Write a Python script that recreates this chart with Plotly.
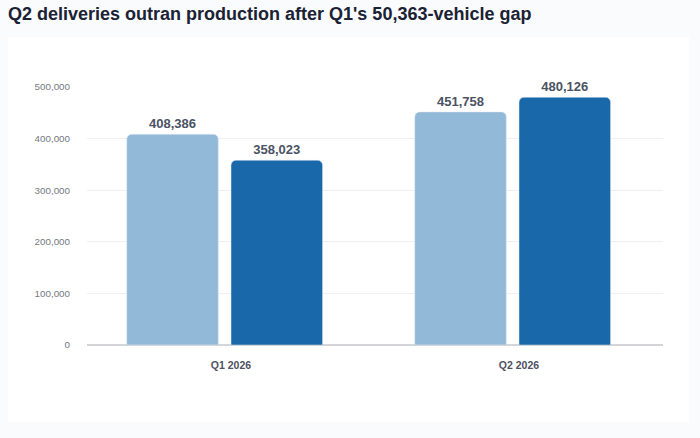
import plotly.graph_objects as go

quarters = ["Q1 2026", "Q2 2026"]
production = [408386, 451758]
deliveries = [358023, 480126]
y_ticks = [0, 100000, 200000, 300000, 400000, 500000]

label_font = dict(family="Liberation Sans", size=13, color="#4a5263", weight="bold")

fig = go.Figure()
fig.add_trace(go.Bar(
    name="Production", x=quarters, y=production,
    marker_color="#93b9d9", width=0.318, offset=-0.362,
    texttemplate="%{y:,}", textposition="outside", cliponaxis=False,
    textfont=label_font,
))
fig.add_trace(go.Bar(
    name="Deliveries", x=quarters, y=deliveries,
    marker_color="#1868aa", width=0.318, offset=0.0,
    texttemplate="%{y:,}", textposition="outside", cliponaxis=False,
    textfont=label_font,
))

# faint card behind the chart
fig.add_shape(type="rect", xref="paper", yref="paper",
              x0=-0.137, x1=1.045, y0=-0.298, y1=1.194,
              fillcolor="white", line_width=0, layer="below")

fig.update_layout(
    width=700, height=438,
    margin=dict(l=87, r=37, t=87, b=93),
    paper_bgcolor="#fafbfd", plot_bgcolor="white",
    showlegend=False,
    barcornerradius=5,
    title=dict(text="Q2 deliveries outran production after Q1's 50,363-vehicle gap",
               x=0.0, xanchor="left", y=0.968, yanchor="middle", pad=dict(l=8),
               font=dict(family="Liberation Sans", size=18, color="#1a2233", weight="bold")),
)
fig.update_yaxes(range=[0, 500000], tickvals=y_ticks, tickformat=",",
                 gridcolor="#eeeff1", zeroline=True, zerolinecolor="#d3d5d9",
                 zerolinewidth=1.5, ticklabelstandoff=16,
                 tickfont=dict(family="Liberation Sans", size=9.8, color="#757980"))
fig.update_xaxes(ticklabelstandoff=12, showline=False,
                 tickfont=dict(family="Liberation Sans", size=10.5, color="#4d5260", weight="bold"))

fig.write_html("out.html", config={"displayModeBar": False},
               post_script="document.body.style.margin='0';")
